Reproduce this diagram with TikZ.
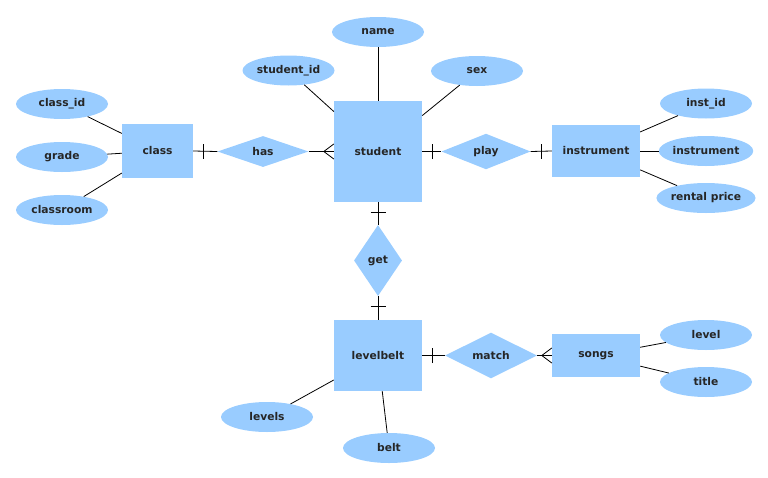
\documentclass[tikz,border=0pt]{standalone}
\usepackage{fontspec}
\setmainfont{DejaVu Sans}
\usetikzlibrary{shapes.geometric}
\definecolor{erblue}{HTML}{99CCFF}
\begin{document}
\begin{tikzpicture}[x=1pt,y=-1pt,
  every node/.style={font=\bfseries\fontsize{10.7}{12}\selectfont, text=black!85, inner sep=0pt},
  ent/.style={rectangle, fill=erblue},
  attr/.style={ellipse, fill=erblue, minimum width=92pt, minimum height=30pt},
  rel/.style={diamond, fill=erblue},
  conn/.style={draw=black, line width=0.8pt}]
\useasboundingbox (0,0) rectangle (768,477);
% entities
\node[ent, minimum width=71pt, minimum height=54pt] (class) at (157.5,151) {class};
\node[ent, minimum width=88pt, minimum height=101pt] (student) at (378,151.5) {student};
\node[ent, minimum width=88pt, minimum height=52pt] (instrument) at (596,151) {instrument};
\node[ent, minimum width=88pt, minimum height=71pt] (levelbelt) at (378,355.5) {levelbelt};
\node[ent, minimum width=88pt, minimum height=43pt] (songs) at (596,355.5) {songs};
% relationships
\node[rel, minimum width=91pt, minimum height=31pt] (has) at (263,151.5) {has};
\node[rel, minimum width=89pt, minimum height=31pt] (play) at (486,151.5) {play};
\node[rel, minimum width=48pt, minimum height=71pt] (get) at (378,260.5) {get};
\node[rel, minimum width=92pt, minimum height=31pt] (match) at (491,355.5) {match};
% attributes
\node[attr] (name) at (378,32) {name};
\node[attr] (sid) at (288.5,70.5) {student\_id};
\node[attr] (sex) at (477,71) {sex};
\node[attr] (classid) at (62,104) {class\_id};
\node[attr] (grade) at (62,157) {grade};
\node[attr] (classroom) at (62,210) {classroom};
\node[attr] (instid) at (706,103.5) {inst\_id};
\node[attr] (instattr) at (706,151) {instrument};
\node[attr] (rental) at (706,198) {rental price};
\node[attr] (level) at (706,335) {level};
\node[attr] (title) at (706,382) {title};
\node[attr] (levels) at (267,417) {levels};
\node[attr] (belt) at (389,448) {belt};
% attribute lines
\foreach \a/\e in {name/student, sid/student, sex/student, classid/class, grade/class,
  classroom/class, instid/instrument, instattr/instrument, rental/instrument,
  level/songs, title/songs, levels/levelbelt, belt/levelbelt}
  \draw[conn] (\a) -- (\e);
% relationship lines
\draw[conn] (class.east) -- (has.west);
\draw[conn] (has.east) -- (student.west);
\draw[conn] (student.east) -- (play.west);
\draw[conn] (play.east) -- (instrument.west);
\draw[conn] (student.south) -- (get.north);
\draw[conn] (get.south) -- (levelbelt.north);
\draw[conn] (levelbelt.east) -- (match.west);
\draw[conn] (match.east) -- (songs.west);
% one bars
\draw[conn] ([xshift=10pt,yshift=-7.5pt]class.east) -- ([xshift=10pt,yshift=7.5pt]class.east);
\draw[conn] ([xshift=10pt,yshift=-7.5pt]student.east) -- ([xshift=10pt,yshift=7.5pt]student.east);
\draw[conn] ([xshift=-10pt,yshift=-7.5pt]instrument.west) -- ([xshift=-10pt,yshift=7.5pt]instrument.west);
\draw[conn] ([xshift=-7.5pt,yshift=-10pt]student.south) -- ([xshift=7.5pt,yshift=-10pt]student.south);
\draw[conn] ([xshift=-7.5pt,yshift=-10pt]get.south) -- ([xshift=7.5pt,yshift=-10pt]get.south);
\draw[conn] ([xshift=10pt,yshift=-7.5pt]levelbelt.east) -- ([xshift=10pt,yshift=7.5pt]levelbelt.east);
% crow's feet
\draw[conn] ([yshift=7.5pt]student.west) -- ([xshift=-10pt]student.west) -- ([yshift=-7.5pt]student.west);
\draw[conn] ([yshift=7.5pt]songs.west) -- ([xshift=-10pt]songs.west) -- ([yshift=-7.5pt]songs.west);
\end{tikzpicture}
\end{document}
